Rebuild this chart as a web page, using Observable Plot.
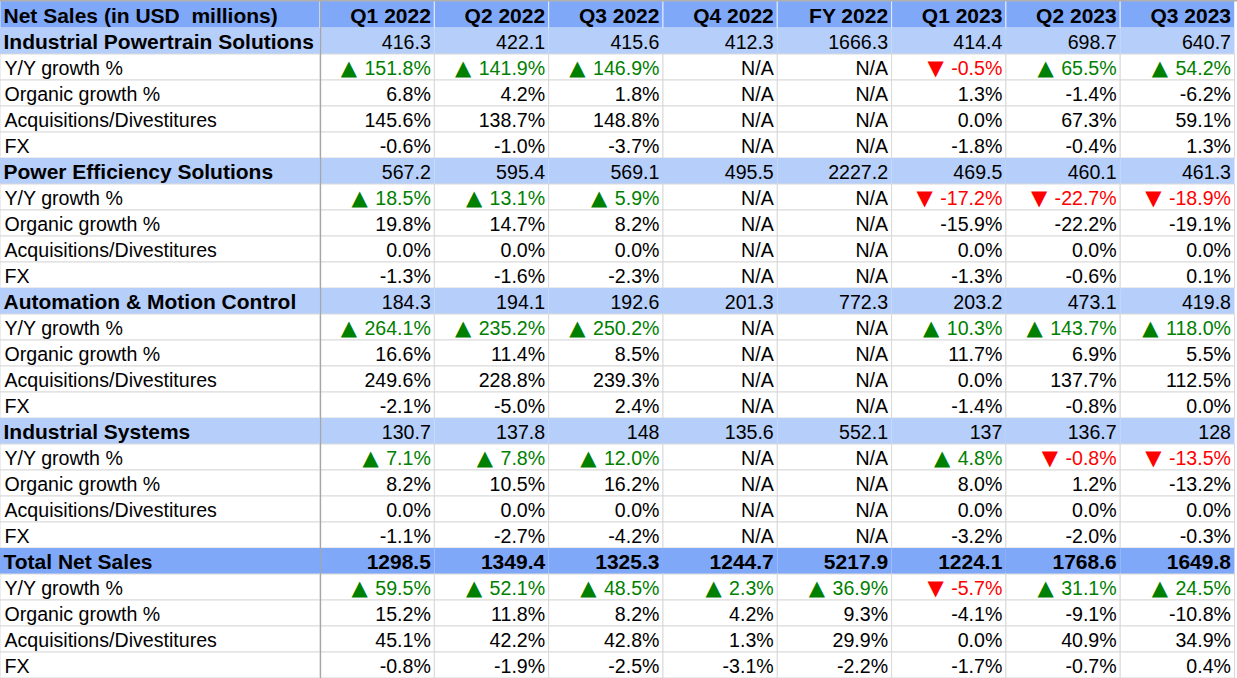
<!DOCTYPE html>
<html>
<head>
<meta charset="utf-8">
<script src="https://cdn.jsdelivr.net/npm/d3@7"></script>
<script src="https://cdn.jsdelivr.net/npm/@observablehq/plot@0.6"></script>
<style>
  html, body { margin: 0; padding: 0; background: #fff; }
  #chart svg { display: block; }
</style>
</head>
<body>
<div id="chart"></div>
<script>
// ---------- data ----------
const tableTitle = "Net Sales (in USD  millions)";
const columns = ["Q1 2022", "Q2 2022", "Q3 2022", "Q4 2022", "FY 2022", "Q1 2023", "Q2 2023", "Q3 2023"];
const groups = ["Industrial Powertrain Solutions", "Power Efficiency Solutions", "Automation & Motion Control", "Industrial Systems", "Total Net Sales"];
const metricLabels = ["Y/Y growth %", "Organic growth %", "Acquisitions/Divestitures", "FX"];

const ipsSales   = [416.3, 422.1, 415.6, 412.3, 1666.3, 414.4, 698.7, 640.7];
const ipsYoY     = [151.8, 141.9, 146.9, null, null, -0.5, 65.5, 54.2];
const ipsOrganic = [6.8, 4.2, 1.8, null, null, 1.3, -1.4, -6.2];
const ipsAcq     = [145.6, 138.7, 148.8, null, null, 0.0, 67.3, 59.1];
const ipsFx      = [-0.6, -1.0, -3.7, null, null, -1.8, -0.4, 1.3];

const pesSales   = [567.2, 595.4, 569.1, 495.5, 2227.2, 469.5, 460.1, 461.3];
const pesYoY     = [18.5, 13.1, 5.9, null, null, -17.2, -22.7, -18.9];
const pesOrganic = [19.8, 14.7, 8.2, null, null, -15.9, -22.2, -19.1];
const pesAcq     = [0.0, 0.0, 0.0, null, null, 0.0, 0.0, 0.0];
const pesFx      = [-1.3, -1.6, -2.3, null, null, -1.3, -0.6, 0.1];

const amcSales   = [184.3, 194.1, 192.6, 201.3, 772.3, 203.2, 473.1, 419.8];
const amcYoY     = [264.1, 235.2, 250.2, null, null, 10.3, 143.7, 118.0];
const amcOrganic = [16.6, 11.4, 8.5, null, null, 11.7, 6.9, 5.5];
const amcAcq     = [249.6, 228.8, 239.3, null, null, 0.0, 137.7, 112.5];
const amcFx      = [-2.1, -5.0, 2.4, null, null, -1.4, -0.8, 0.0];

const isSales    = [130.7, 137.8, 148, 135.6, 552.1, 137, 136.7, 128];
const isYoY      = [7.1, 7.8, 12.0, null, null, 4.8, -0.8, -13.5];
const isOrganic  = [8.2, 10.5, 16.2, null, null, 8.0, 1.2, -13.2];
const isAcq      = [0.0, 0.0, 0.0, null, null, 0.0, 0.0, 0.0];
const isFx       = [-1.1, -2.7, -4.2, null, null, -3.2, -2.0, -0.3];

const totSales   = [1298.5, 1349.4, 1325.3, 1244.7, 5217.9, 1224.1, 1768.6, 1649.8];
const totYoY     = [59.5, 52.1, 48.5, 2.3, 36.9, -5.7, 31.1, 24.5];
const totOrganic = [15.2, 11.8, 8.2, 4.2, 9.3, -4.1, -9.1, -10.8];
const totAcq     = [45.1, 42.2, 42.8, 1.3, 29.9, 0.0, 40.9, 34.9];
const totFx      = [-0.8, -1.9, -2.5, -3.1, -2.2, -1.7, -0.7, 0.4];

const groupData = [
  [ipsSales, ipsYoY, ipsOrganic, ipsAcq, ipsFx],
  [pesSales, pesYoY, pesOrganic, pesAcq, pesFx],
  [amcSales, amcYoY, amcOrganic, amcAcq, amcFx],
  [isSales, isYoY, isOrganic, isAcq, isFx],
  [totSales, totYoY, totOrganic, totAcq, totFx]
];

// ---------- styling ----------
const headerBlue = "#80a8f8";
const sectionBlue = "#b6cefa";
const green = "#008000";
const red = "#ff0000";
const labelColWidth = 2.8; // in data-column units
const normalSize = 19.6;
const boldSize = 21;

// ---------- build table ----------
const rows = [];
rows.push({label: tableTitle, type: "header", cells: columns.map(c => ({text: c, color: "#000"}))});
groups.forEach((g, gi) => {
  const [sales, yoy, org, acq, fx] = groupData[gi];
  const isTotal = gi === groups.length - 1;
  rows.push({label: g, type: isTotal ? "total" : "section", cells: sales.map(v => ({text: String(v), color: "#000"}))});
  rows.push({label: metricLabels[0], type: "metric", cells: yoy.map(v =>
    v == null ? {text: "N/A", color: "#000"}
    : v >= 0 ? {text: "▲ " + v.toFixed(1) + "%", color: green}
    : {text: "▼ " + v.toFixed(1) + "%", color: red})});
  [org, acq, fx].forEach((arr, k) => {
    rows.push({label: metricLabels[k + 1], type: "metric", cells: arr.map(v => ({text: v == null ? "N/A" : v.toFixed(1) + "%", color: "#000"}))});
  });
});

const colLeft = j => j === 0 ? 0 : labelColWidth + (j - 1);
const colRight = j => j === 0 ? labelColWidth : labelColWidth + j;
const rowTop = i => i === 0 ? -0.08 : i;
const nCols = columns.length + 1;
const xMax = labelColWidth + columns.length;

const cells = [];
const texts = [];
rows.forEach((r, i) => {
  const fill = r.type === "header" || r.type === "total" ? headerBlue : r.type === "section" ? sectionBlue : "#ffffff";
  const stroke = r.type === "metric" ? "#d9d9d9" : r.type === "header" ? "#e4ecfb" : "none";
  for (let j = 0; j < nCols; j++) {
    cells.push({x1: colLeft(j), x2: colRight(j), y1: rowTop(i), y2: i + 1, fill, stroke});
  }
  const labelBold = r.type !== "metric";
  texts.push({x: 0, y: i + 0.5, text: r.label, color: "#000", weight: labelBold ? "bold" : "normal", anchor: "start"});
  r.cells.forEach((c, j) => {
    texts.push({x: colRight(j + 1), y: i + 0.5, text: c.text, color: c.color,
      weight: (r.type === "header" || r.type === "total") ? "bold" : "normal", anchor: "end"});
  });
});

const font = "'Liberation Sans', Arial, 'DejaVu Sans', sans-serif";

const chart = Plot.plot({
  width: 1237,
  height: 678,
  margin: 0,
  style: {background: "#fff", fontFamily: font},
  x: {domain: [0, xMax], range: [0, 1234.5], axis: null},
  y: {domain: [0, rows.length], range: [2, 678], axis: null},
  color: {type: "identity"},
  marks: [
    Plot.rect(cells, {x1: "x1", x2: "x2", y1: "y1", y2: "y2", fill: "fill", stroke: "stroke", strokeWidth: 1}),
    Plot.ruleX([labelColWidth], {stroke: "#a6a6a6", strokeWidth: 1.2}),
    Plot.ruleY([-0.07], {stroke: "#b0b0b0", strokeWidth: 1.5}),
    Plot.text(texts.filter(d => d.anchor === "start" && d.weight === "bold"), {x: "x", y: "y", text: "text", fill: "color", textAnchor: "start", dx: 3, dy: 1, fontSize: boldSize, fontWeight: "bold"}),
    Plot.text(texts.filter(d => d.anchor === "start" && d.weight !== "bold"), {x: "x", y: "y", text: "text", fill: "color", textAnchor: "start", dx: 4, dy: 1, fontSize: normalSize}),
    Plot.text(texts.filter(d => d.anchor === "end" && d.weight === "bold"), {x: "x", y: "y", text: "text", fill: "color", textAnchor: "end", dx: -4, dy: 1, fontSize: boldSize, fontWeight: "bold"}),
    Plot.text(texts.filter(d => d.anchor === "end" && d.weight !== "bold"), {x: "x", y: "y", text: "text", fill: "color", textAnchor: "end", dx: -4, dy: 1, fontSize: normalSize})
  ]
});

// style the arrow glyphs inside growth cells
chart.querySelectorAll("text").forEach(t => {
  const s = t.textContent;
  if (s.startsWith("▲ ") || s.startsWith("▼ ")) {
    const ns = "http://www.w3.org/2000/svg";
    const rest = s.slice(2);
    t.textContent = "";
    const a = document.createElementNS(ns, "tspan");
    a.setAttribute("font-size", "1.08em");
    a.setAttribute("font-family", "'DejaVu Sans', sans-serif");
    a.textContent = s[0];
    const b = document.createElementNS(ns, "tspan");
    b.setAttribute("dx", "0.38em");
    b.textContent = rest;
    t.appendChild(a);
    t.appendChild(b);
  }
});
document.getElementById("chart").appendChild(chart);
</script>
</body>
</html>
